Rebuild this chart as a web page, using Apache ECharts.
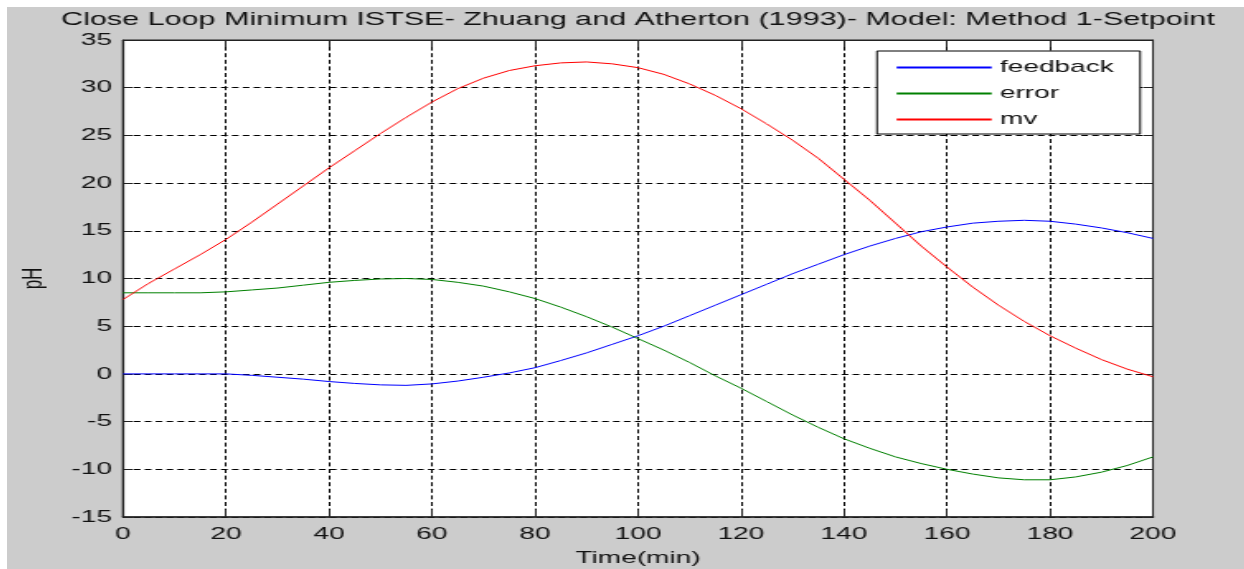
<!DOCTYPE html>
<html>
<head>
<meta charset="utf-8">
<script src="https://cdn.jsdelivr.net/npm/echarts@6/dist/echarts.min.js"></script>
<style>
  html, body { margin: 0; padding: 0; background: #fff; }
  #wrap { position: absolute; left: 7px; top: 7px; width: 1237px; height: 562px; overflow: hidden; background: #cccccc; }
  #chart { height: 562px; transform-origin: 0 0; }
</style>
</head>
<body>
<div id="wrap"><div id="chart"></div></div>
<script>
// time axis (min), one sample every 5 min
const time = [0,5,10,15,20,25,30,35,40,45,50,55,60,65,70,75,80,85,90,95,100,
  105,110,115,120,125,130,135,140,145,150,155,160,165,170,175,180,185,190,195,200]

const feedback = [0,0,0,0,0,-0.15,-0.35,-0.55,-0.8,-1.0,-1.15,-1.2,-1.05,-0.75,-0.35,0.1,0.65,1.4,2.2,3.1,4.0,
  5.0,6.1,7.2,8.3,9.4,10.5,11.5,12.5,13.4,14.2,14.9,15.4,15.8,16.0,16.1,16.0,15.7,15.3,14.8,14.2]

const error = [8.5,8.5,8.5,8.5,8.6,8.8,9.0,9.3,9.6,9.8,9.95,10.0,9.9,9.6,9.2,8.6,7.9,7.0,6.0,4.9,3.7,
  2.5,1.2,-0.2,-1.5,-2.9,-4.3,-5.6,-6.8,-7.8,-8.7,-9.4,-10.0,-10.5,-10.9,-11.1,-11.1,-10.8,-10.3,-9.6,-8.7]

const mv = [7.8,9.5,11.0,12.5,14.1,15.9,17.8,19.7,21.6,23.4,25.2,26.9,28.5,29.9,31.0,31.8,32.3,32.6,32.7,32.5,32.1,
  31.4,30.4,29.2,27.8,26.2,24.5,22.6,20.4,18.2,15.8,13.4,11.2,9.1,7.2,5.5,4.0,2.7,1.5,0.5,-0.3]

const seriesNames = ['feedback', 'error', 'mv']
const seriesColors = ['#0000ff', '#008000', '#ff0000']

// the figure is stretched sideways, draw narrow and scale it
const S = 1.65
const chartEl = document.getElementById('chart')
chartEl.style.width = (1237 / S) + 'px'
chartEl.style.transform = 'scaleX(' + S + ')'

const font = "'Liberation Sans', Arial, sans-serif"
const pair = vals => time.map((t, i) => [t, vals[i]])
const grid = { lineStyle: { color: '#000', width: 1, type: [4, 2.6] } }

const chart = echarts.init(chartEl, null, { renderer: 'canvas' })
chart.setOption({
  animation: false,
  backgroundColor: '#cccccc',
  color: seriesColors,
  textStyle: { fontFamily: font, color: '#111' },
  title: {
    text: 'Close Loop Minimum ISTSE- Zhuang and Atherton (1993)- Model: Method 1-Setpoint',
    left: (638 - 7) / S, top: 3, padding: 0, textAlign: 'center',
    textStyle: { fontFamily: font, fontSize: 18.5, fontWeight: 'normal', color: '#111' },
  },
  grid: {
    left: (123 - 7) / S, top: 33, width: 1030 / S, height: 477,
    outerBoundsMode: 'none', containLabel: false,
    show: true, backgroundColor: '#fff', borderColor: '#222', borderWidth: 1,
  },
  legend: {
    orient: 'vertical',
    left: (877 - 7) / S, top: 44,
    padding: [8, 16, 6, 18 / S],
    backgroundColor: '#fff', borderColor: '#000', borderWidth: 1,
    itemWidth: 95 / S, itemHeight: 1, itemGap: 9,
    itemStyle: { opacity: 0 },
    textStyle: { fontFamily: font, fontSize: 17, color: '#111' },
    data: seriesNames,
  },
  xAxis: [
    {
      type: 'value', min: 0, max: 200, interval: 20,
      name: 'Time(min)', nameLocation: 'middle', nameGap: 33,
      nameTextStyle: { fontFamily: font, fontSize: 17, color: '#111' },
      axisLine: { onZero: false, lineStyle: { color: '#222', width: 1.5 } },
      axisTick: { inside: true, length: 7, lineStyle: { color: '#222', width: 1 } },
      axisLabel: { fontFamily: font, fontSize: 17, color: '#111', margin: 9 },
      splitLine: grid,
    },
    {
      type: 'value', min: 0, max: 200, interval: 20, position: 'top',
      axisLine: { onZero: false, lineStyle: { color: '#222', width: 1 } },
      axisTick: { inside: true, length: 7, lineStyle: { color: '#222', width: 1 } },
      axisLabel: { show: false }, splitLine: { show: false },
    },
  ],
  yAxis: [
    {
      type: 'value', min: -15, max: 35, interval: 5,
      name: 'pH', nameLocation: 'middle', nameGap: 45,
      nameTextStyle: { fontFamily: font, fontSize: 17, color: '#111' },
      axisLine: { onZero: false, lineStyle: { color: '#222', width: 1.2 } },
      axisTick: { inside: true, length: 10 / S, lineStyle: { color: '#222', width: 1 } },
      axisLabel: { fontFamily: font, fontSize: 17, color: '#111', margin: 11 / S },
      splitLine: grid,
    },
    {
      type: 'value', min: -15, max: 35, interval: 5, position: 'right',
      axisLine: { onZero: false, lineStyle: { color: '#222', width: 1 } },
      axisTick: { inside: true, length: 10 / S, lineStyle: { color: '#222', width: 1 } },
      axisLabel: { show: false }, splitLine: { show: false },
    },
  ],
  series: [feedback, error, mv].map((vals, i) => ({
    name: seriesNames[i], type: 'line', data: pair(vals),
    symbol: 'none',
    itemStyle: { color: seriesColors[i] },
    lineStyle: { color: seriesColors[i], width: 1 },
  })),
})
</script>
</body>
</html>
